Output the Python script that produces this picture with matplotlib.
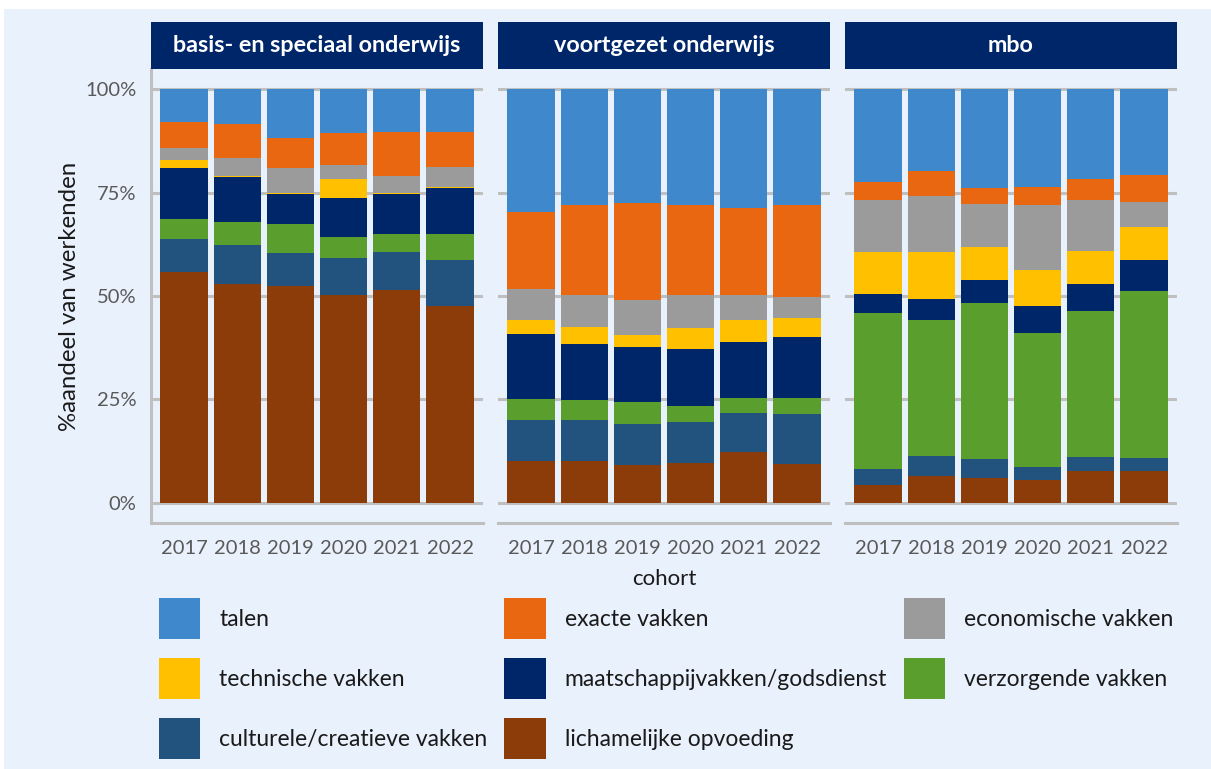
import numpy as np
import matplotlib
matplotlib.use('Agg')
import matplotlib.pyplot as plt
from matplotlib.patches import Patch, Rectangle

plt.rcParams['font.family'] = ['Lato', 'DejaVu Sans']

years = ['2017', '2018', '2019', '2020', '2021', '2022']
panel_titles = ['basis- en speciaal onderwijs', 'voortgezet onderwijs', 'mbo']

# stacking order, bottom to top
subjects = ['lichamelijke opvoeding', 'culturele/creatieve vakken', 'verzorgende vakken',
            'maatschappijvakken/godsdienst', 'technische vakken', 'economische vakken',
            'exacte vakken', 'talen']
colors = ['#8B3C08', '#22527E', '#5A9F2D', '#00266A', '#FFC000', '#9B9B9B', '#E96711', '#3F88CC']

# share (%) per year, values listed in the stacking order above
basis = [
    [55.7, 8.2, 4.8, 12.3, 1.9, 2.9, 6.4, 7.8],    # 2017
    [53.0, 9.4, 5.5, 10.9, 0.2, 4.4, 8.1, 8.5],    # 2018
    [52.5, 7.8, 7.2, 7.2, 0.2, 6.0, 7.4, 11.7],    # 2019
    [50.3, 8.8, 5.2, 9.5, 4.5, 3.4, 7.7, 10.6],    # 2020
    [51.5, 9.2, 4.3, 9.7, 0.2, 4.2, 10.5, 10.4],   # 2021
    [47.7, 10.9, 6.3, 11.2, 0.2, 5.0, 8.3, 10.4],  # 2022
]
vo = [
    [10.1, 10.0, 4.9, 15.8, 3.5, 7.5, 18.5, 29.7],
    [10.1, 9.8, 5.0, 13.4, 4.1, 7.9, 21.8, 27.9],
    [9.1, 10.0, 5.2, 13.3, 3.0, 8.4, 23.5, 27.5],
    [9.5, 10.0, 4.0, 13.6, 5.2, 8.0, 21.7, 28.0],
    [12.2, 9.4, 3.8, 13.5, 5.2, 6.2, 20.9, 28.8],
    [9.3, 12.1, 4.0, 14.7, 4.7, 5.0, 22.2, 28.0],
]
mbo = [
    [4.3, 3.8, 37.8, 4.6, 10.1, 12.7, 4.2, 22.5],
    [6.5, 4.7, 33.1, 4.9, 11.4, 13.7, 5.9, 19.8],
    [6.1, 4.5, 37.8, 5.5, 8.0, 10.4, 3.9, 23.8],
    [5.4, 3.2, 32.5, 6.6, 8.6, 15.8, 4.3, 23.6],
    [7.6, 3.4, 35.4, 6.5, 8.0, 12.4, 5.0, 21.7],
    [7.6, 3.2, 40.3, 7.5, 8.1, 6.1, 6.5, 20.7],
]

bg = '#E9F1FD'
navy = '#00266A'
grid_c = '#BFBFBF'
tick_c = '#595959'

fig = plt.figure(figsize=(12.11, 7.69), dpi=100)
fig.patch.set_facecolor('white')
fig.patches.append(Rectangle((4 / 1211, 0), 1, 1 - 9 / 769, transform=fig.transFigure,
                             facecolor=bg, edgecolor='none', zorder=-10))

W, H = 1211, 769
lefts = [151, 498, 845]
pw = 332
ax_top, ax_bot = 69, 523
hd_top = 22

x = np.arange(len(years))
for i, (title, data) in enumerate(zip(panel_titles, [basis, vo, mbo])):
    ax = fig.add_axes([lefts[i] / W, 1 - ax_bot / H, pw / W, (ax_bot - ax_top) / H])
    ax.set_facecolor(bg)
    vals = np.array(data).T
    bottom = np.zeros(len(years))
    for s, c, v in zip(subjects, colors, vals):
        ax.bar(x, v, width=0.89, bottom=bottom, color=c, label=s, zorder=3)
        bottom += v
    ax.set_xlim(-0.62, 5.62)
    ax.set_ylim(-4.9, 104.9)
    ax.set_yticks([0, 25, 50, 75, 100])
    ax.set_axisbelow(True)
    ax.yaxis.grid(True, color=grid_c, lw=2.2)
    ax.set_xticks(x)
    ax.set_xticklabels(years)
    ax.tick_params(axis='x', length=0, pad=12, labelsize=14.5, colors=tick_c)
    ax.tick_params(axis='y', length=0, pad=10.5, labelsize=14.5, colors=tick_c)
    for sp in ['top', 'right']:
        ax.spines[sp].set_visible(False)
    ax.spines['bottom'].set_color(grid_c)
    ax.spines['bottom'].set_linewidth(2.2)
    if i == 0:
        ax.set_yticklabels(['0%', '25%', '50%', '75%', '100%'])
        ax.spines['left'].set_color(grid_c)
        ax.spines['left'].set_linewidth(2.2)
        ax.set_ylabel('%aandeel van werkenden', fontsize=17.3, color='#1a1a1a', labelpad=4)
    else:
        ax.set_yticklabels([])
        ax.spines['left'].set_visible(False)
    if i == 1:
        ax.set_xlabel('cohort', fontsize=16, color='#1a1a1a', labelpad=9)

    hax = fig.add_axes([lefts[i] / W, 1 - ax_top / H, pw / W, (ax_top - hd_top) / H])
    hax.set_facecolor(navy)
    hax.set_xticks([])
    hax.set_yticks([])
    for sp in hax.spines.values():
        sp.set_visible(False)
    hax.text(0.5, 0.5, title, color='white', fontsize=16.8, fontweight='bold',
             ha='center', va='center', transform=hax.transAxes)

# legend, row-wise order
order = ['talen', 'technische vakken', 'culturele/creatieve vakken',
         'exacte vakken', 'maatschappijvakken/godsdienst', 'lichamelijke opvoeding',
         'economische vakken', 'verzorgende vakken']
handles = [Patch(facecolor=colors[subjects.index(s)], edgecolor='none') for s in order]
fig.legend(handles, order, loc='upper left', bbox_to_anchor=(159 / W, 1 - 598 / H),
           ncol=3, frameon=False, fontsize=16.5, handlelength=1.79, handleheight=2.38,
           handletextpad=0.83, labelspacing=0.83, columnspacing=0.75,
           borderpad=0, borderaxespad=0, labelcolor='#1a1a1a')

fig.savefig('out.png', dpi=100, facecolor=fig.get_facecolor())
